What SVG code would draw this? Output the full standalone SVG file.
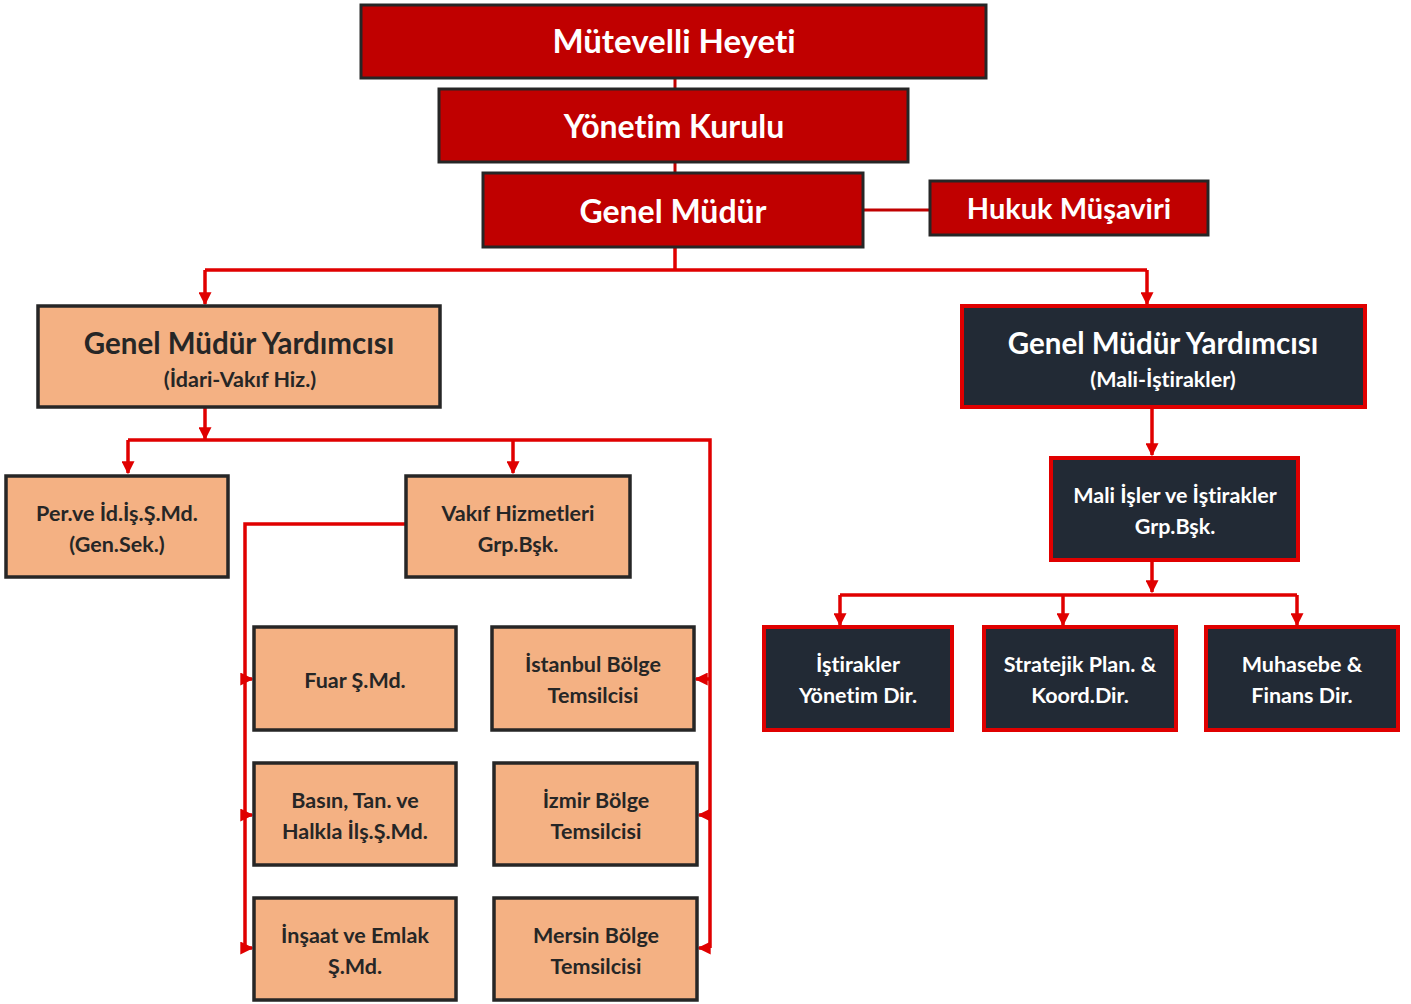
<svg xmlns="http://www.w3.org/2000/svg" width="1411" height="1004" viewBox="0 0 1411 1004">
<defs>
<style>
.red{fill:#c00000;stroke:#262626;stroke-width:3}
.peach{fill:#f4b183;stroke:#262626;stroke-width:3.5}
.dark{fill:#222a35;stroke:#e00000;stroke-width:4}
text{font-family:Lato,"Noto Sans","Liberation Sans",sans-serif;font-weight:bold;text-anchor:middle;font-variant-ligatures:none}
.tw{fill:#ffffff}
.tb{fill:#262626}
.s{font-size:21.5px}
.conn{fill:none;stroke:#e00000;stroke-width:3.5}
.thin{fill:none;stroke:#c00000;stroke-width:3}
</style>
<marker id="arr" viewBox="0 0 10 10" refX="9" refY="5" markerWidth="13" markerHeight="13" markerUnits="userSpaceOnUse" orient="auto">
<path d="M0,0 L10,5 L0,10 z" fill="#e00000"/>
</marker>
</defs>
<rect width="1411" height="1004" fill="#ffffff"/>
<g id="connectors">
<path class="thin" d="M675,78 V89 M675,162 V173 M863,210 H930"/>
<path class="conn" d="M675,247 V270 M205,270 H1147"/>
<path class="conn" d="M205,270 V304" marker-end="url(#arr)"/>
<path class="conn" d="M1147,270 V304" marker-end="url(#arr)"/>
<path class="conn" d="M205,407 V439" marker-end="url(#arr)"/>
<path class="conn" d="M128,440 H710 V948"/>
<path class="conn" d="M128,440 V473" marker-end="url(#arr)"/>
<path class="conn" d="M513,440 V473" marker-end="url(#arr)"/>
<path class="conn" d="M406,524 H245 V948"/>
<path class="conn" d="M245,679 H252" marker-end="url(#arr)"/>
<path class="conn" d="M245,815 H252" marker-end="url(#arr)"/>
<path class="conn" d="M245,948 H252" marker-end="url(#arr)"/>
<path class="conn" d="M710,679 H696" marker-end="url(#arr)"/>
<path class="conn" d="M710,815 H699" marker-end="url(#arr)"/>
<path class="conn" d="M710,948 H699" marker-end="url(#arr)"/>
<path class="conn" d="M1152,407 V455" marker-end="url(#arr)"/>
<path class="conn" d="M1152,560 V592" marker-end="url(#arr)"/>
<path class="conn" d="M840,595 H1297"/>
<path class="conn" d="M840,595 V625" marker-end="url(#arr)"/>
<path class="conn" d="M1063,595 V625" marker-end="url(#arr)"/>
<path class="conn" d="M1297,595 V625" marker-end="url(#arr)"/>
</g>
<g id="mutevelli"><rect class="red" x="361" y="5" width="625" height="73"/><text class="tw" x="674" y="53" font-size="33">Mütevelli Heyeti</text></g>
<g id="yonetim"><rect class="red" x="439" y="89" width="469" height="73"/><text class="tw" x="674" y="138" font-size="32">Yönetim Kurulu</text></g>
<g id="genelmudur"><rect class="red" x="483" y="173" width="380" height="74"/><text class="tw" x="673" y="223" font-size="32">Genel Müdür</text></g>
<g id="hukuk"><rect class="red" x="930" y="181" width="278" height="54"/><text class="tw" x="1069" y="219" font-size="29">Hukuk Müşaviri</text></g>
<g id="gmy-idari"><rect class="peach" x="38" y="306" width="402" height="101"/><text class="tb" x="239" y="354" font-size="29.5">Genel Müdür Yardımcısı</text><text class="tb" x="240" y="387" font-size="21.5">(İdari-Vakıf Hiz.)</text></g>
<g id="gmy-mali"><rect class="dark" x="962" y="306" width="403" height="101"/><text class="tw" x="1163" y="354" font-size="29.5">Genel Müdür Yardımcısı</text><text class="tw" x="1163" y="387" font-size="21.5">(Mali-İştirakler)</text></g>
<g id="per"><rect class="peach" x="6" y="476" width="222" height="101"/><text class="tb s" x="117" y="521">Per.ve İd.İş.Ş.Md.</text><text class="tb s" x="117" y="552">(Gen.Sek.)</text></g>
<g id="vakif"><rect class="peach" x="406" y="476" width="224" height="101"/><text class="tb s" x="518" y="521">Vakıf Hizmetleri</text><text class="tb s" x="518" y="552">Grp.Bşk.</text></g>
<g id="fuar"><rect class="peach" x="254" y="627" width="202" height="103"/><text class="tb s" x="355" y="688">Fuar Ş.Md.</text></g>
<g id="istanbul"><rect class="peach" x="492" y="627" width="202" height="103"/><text class="tb s" x="593" y="672">İstanbul Bölge</text><text class="tb s" x="593" y="703">Temsilcisi</text></g>
<g id="basin"><rect class="peach" x="254" y="763" width="202" height="102"/><text class="tb s" x="355" y="808">Basın, Tan. ve</text><text class="tb s" x="355" y="839">Halkla İlş.Ş.Md.</text></g>
<g id="izmir"><rect class="peach" x="494" y="763" width="203" height="102"/><text class="tb s" x="596" y="808">İzmir Bölge</text><text class="tb s" x="596" y="839">Temsilcisi</text></g>
<g id="insaat"><rect class="peach" x="254" y="898" width="202" height="102"/><text class="tb s" x="355" y="943">İnşaat ve Emlak</text><text class="tb s" x="355" y="974">Ş.Md.</text></g>
<g id="mersin"><rect class="peach" x="494" y="898" width="203" height="102"/><text class="tb s" x="596" y="943">Mersin Bölge</text><text class="tb s" x="596" y="974">Temsilcisi</text></g>
<g id="mali-isler"><rect class="dark" x="1051" y="458" width="247" height="102"/><text class="tw s" x="1175" y="503">Mali İşler ve İştirakler</text><text class="tw s" x="1175" y="534">Grp.Bşk.</text></g>
<g id="istirakler"><rect class="dark" x="764" y="627" width="188" height="103"/><text class="tw s" x="858" y="672">İştirakler</text><text class="tw s" x="858" y="703">Yönetim Dir.</text></g>
<g id="stratejik"><rect class="dark" x="984" y="627" width="192" height="103"/><text class="tw s" x="1080" y="672">Stratejik Plan. &amp;</text><text class="tw s" x="1080" y="703">Koord.Dir.</text></g>
<g id="muhasebe"><rect class="dark" x="1206" y="627" width="192" height="103"/><text class="tw s" x="1302" y="672">Muhasebe &amp;</text><text class="tw s" x="1302" y="703">Finans Dir.</text></g>
</svg>
